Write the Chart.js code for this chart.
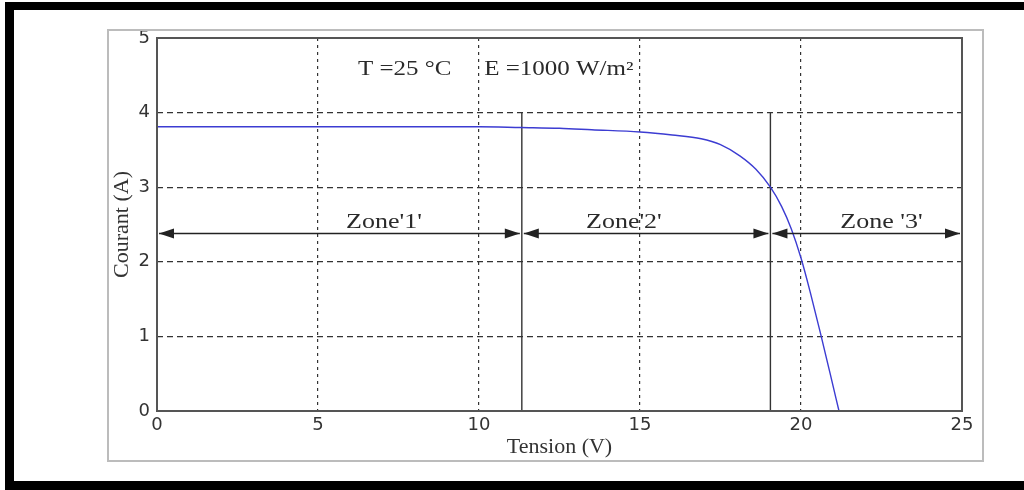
<!DOCTYPE html>
<html>
<head>
<meta charset="utf-8">
<script src="https://cdn.jsdelivr.net/npm/chart.js@4.4.1/dist/chart.umd.min.js"></script>
<style>
  html, body { margin:0; padding:0; width:1024px; height:490px; overflow:hidden; background:#fff; }
  #cadre { position:absolute; left:5px; top:2px; width:1100px; height:488px; box-sizing:border-box;
    border-top:8px solid #000; border-left:9px solid #000; border-bottom:9px solid #000; }
  #boite { position:absolute; left:107px; top:29px; width:877px; height:433px; box-sizing:border-box; border:2px solid #bcbcbc; }
  #zone { position:absolute; left:109px; top:31px; width:873px; height:429px; }
</style>
</head>
<body>
<div id="cadre"></div>
<div id="boite"></div>
<div id="zone"><canvas id="chartIV"></canvas></div>
<script>
// courbe I-V
const tension = [0, 5, 10, 11.3, 12.5, 13.5, 15, 16, 16.9, 17.5, 18.1, 18.6, 19.05, 19.4, 19.7, 20.0, 20.3, 20.6, 20.9, 21.18];
const courant = [3.81, 3.81, 3.81, 3.80, 3.79, 3.77, 3.74, 3.70, 3.65, 3.57, 3.42, 3.24, 3.0, 2.74, 2.44, 2.05, 1.57, 1.05, 0.51, 0];

const xTicks = [0, 5, 10, 15, 20, 25];
const yTicks = [0, 1, 2, 3, 4, 5];

// limites des zones et flèches
const limitesZones = [0, 11.33, 19.05, 25];
const hautLimites = 4;
const hauteurFleches = 2.38;
const nomsZones = ["Zone'1'", "Zone'2'", "Zone '3'"];
const centresZones = [7.05, 14.5, 22.5];

// conditions de mesure
const textesConditions = ['T =25 °C', 'E =1000 W/m²'];
const xConditions = [6.24, 10.16];
const yConditions = 4.58;

const serif = '"Liberation Serif", "DejaVu Serif", serif';

const lignesZones = limitesZones.slice(1, -1).map(v => ({
  data: [{x: v, y: 0}, {x: v, y: hautLimites}],
  borderColor: '#333', borderWidth: 1.4, pointRadius: 0, fill: false
}));

function texteEtire(ctx, txt, x, y, etire) {
  ctx.save();
  ctx.translate(x, y);
  ctx.scale(etire, 1);
  ctx.fillText(txt, 0, 0);
  ctx.restore();
}

const annotations = {
  id: 'annotations',
  afterDatasetsDraw(chart) {
    const {ctx, chartArea, scales: {x, y}} = chart;
    ctx.save();
    // flèches doubles
    const yf = y.getPixelForValue(hauteurFleches);
    ctx.strokeStyle = '#222';
    ctx.fillStyle = '#222';
    ctx.lineWidth = 1.5;
    for (let i = 0; i < limitesZones.length - 1; i++) {
      const a = x.getPixelForValue(limitesZones[i]) + 2;
      const b = x.getPixelForValue(limitesZones[i + 1]) - 2;
      ctx.beginPath(); ctx.moveTo(a, yf); ctx.lineTo(b, yf); ctx.stroke();
      ctx.beginPath(); ctx.moveTo(a, yf); ctx.lineTo(a + 15, yf - 5); ctx.lineTo(a + 15, yf + 5); ctx.closePath(); ctx.fill();
      ctx.beginPath(); ctx.moveTo(b, yf); ctx.lineTo(b - 15, yf - 5); ctx.lineTo(b - 15, yf + 5); ctx.closePath(); ctx.fill();
    }
    // noms des zones
    ctx.fillStyle = '#2a2a2a';
    ctx.font = '20px ' + serif;
    ctx.textBaseline = 'alphabetic';
    nomsZones.forEach((n, i) => {
      const w = ctx.measureText(n).width * 1.3;
      texteEtire(ctx, n, x.getPixelForValue(centresZones[i]) - w / 2, yf - 5, 1.3);
    });
    // conditions
    ctx.textBaseline = 'middle';
    textesConditions.forEach((t, i) => {
      texteEtire(ctx, t, x.getPixelForValue(xConditions[i]), y.getPixelForValue(yConditions), 1.25);
    });
    // cadre
    ctx.strokeStyle = '#555';
    ctx.lineWidth = 2;
    ctx.strokeRect(chartArea.left, chartArea.top, chartArea.right - chartArea.left, chartArea.bottom - chartArea.top);
    ctx.restore();
  }
};

const grilleCouleur = c => (c.index === 0 || c.index === 5) ? 'rgba(0,0,0,0)' : '#333';

new Chart(document.getElementById('chartIV'), {
  type: 'line',
  data: {
    datasets: [
      {
        data: tension.map((v, i) => ({x: v, y: courant[i]})),
        borderColor: '#3c3cd2', borderWidth: 1.4, pointRadius: 0,
        cubicInterpolationMode: 'monotone', fill: false
      },
      ...lignesZones
    ]
  },
  options: {
    responsive: true,
    maintainAspectRatio: false,
    animation: false,
    layout: { padding: { left: 0, top: 7, right: 20, bottom: 0 } },
    plugins: { legend: { display: false }, tooltip: { enabled: false } },
    scales: {
      x: {
        type: 'linear', min: 0, max: 25,
        afterBuildTicks: s => { s.ticks = xTicks.map(v => ({value: v})); },
        afterFit: s => { s.height = 49; s.paddingLeft = 0; s.paddingRight = 0; },
        grid: { color: grilleCouleur, lineWidth: 1.2, drawTicks: false },
        border: { display: false, dash: [3, 4] },
        ticks: { padding: 4, color: '#333', font: { family: '"DejaVu Sans"', size: 18 }, maxRotation: 0 },
        title: { display: true, text: 'Tension (V)', color: '#333', padding: 0, font: { family: serif, size: 22 } }
      },
      y: {
        type: 'linear', min: 0, max: 5,
        afterBuildTicks: s => { s.ticks = yTicks.map(v => ({value: v})); },
        afterFit: s => { s.width = 48; s.paddingTop = 0; s.paddingBottom = 0; },
        grid: { color: grilleCouleur, lineWidth: 1.2, drawTicks: false },
        border: { display: false, dash: [6, 4] },
        ticks: { padding: 7, color: '#333', font: { family: '"DejaVu Sans"', size: 18 } },
        title: { display: true, text: 'Courant (A)', color: '#333', padding: 0, font: { family: serif, size: 22 } }
      }
    }
  },
  plugins: [annotations]
});
</script>
</body>
</html>
